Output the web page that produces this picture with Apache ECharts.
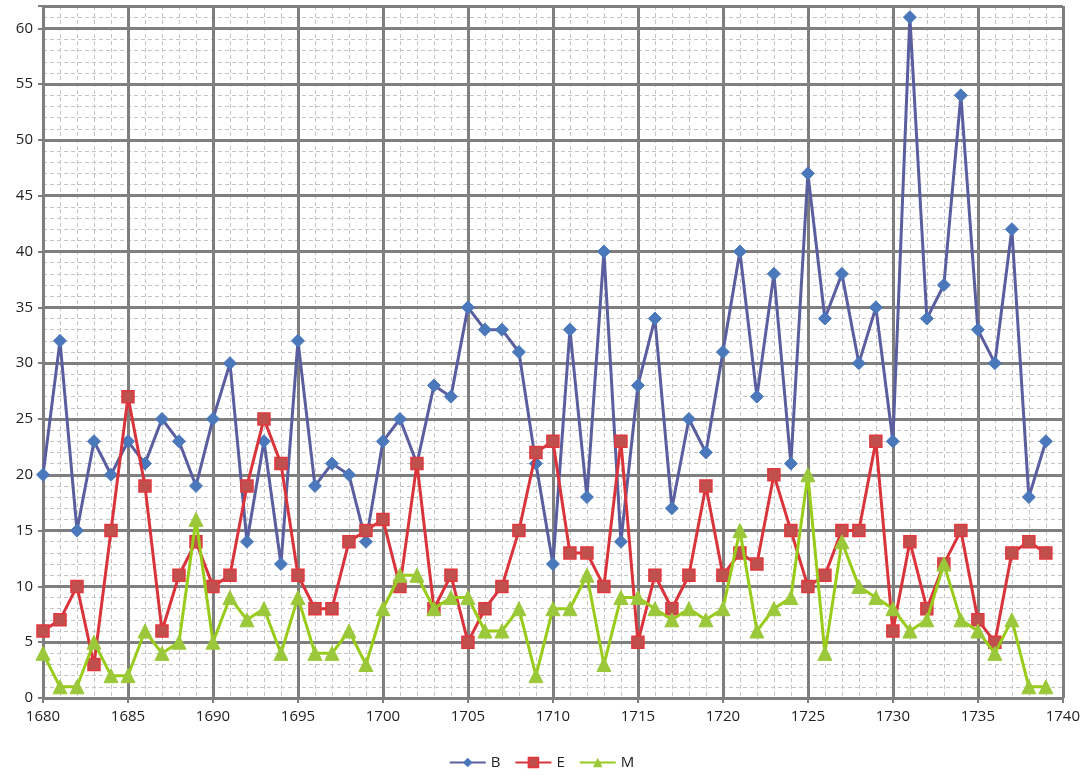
<!DOCTYPE html>
<html>
<head>
<meta charset="utf-8">
<script src="https://cdn.jsdelivr.net/npm/echarts@6/dist/echarts.min.js"></script>
<style>
  html, body { margin: 0; padding: 0; background: #fff; }
  #chart { width: 1083px; height: 775px; }
</style>
</head>
<body>
<div id="chart"></div>
<script>
const years = [];
for (let y = 1680; y <= 1739; y++) years.push(y);

const seriesB = [20, 32, 15, 23, 20, 23, 21, 25, 23, 19,
  25, 30, 14, 23, 12, 32, 19, 21, 20, 14,
  23, 25, 21, 28, 27, 35, 33, 33, 31, 21,
  12, 33, 18, 40, 14, 28, 34, 17, 25, 22,
  31, 40, 27, 38, 21, 47, 34, 38, 30, 35,
  23, 61, 34, 37, 54, 33, 30, 42, 18, 23];

const seriesE = [6, 7, 10, 3, 15, 27, 19, 6, 11, 14,
  10, 11, 19, 25, 21, 11, 8, 8, 14, 15,
  16, 10, 21, 8, 11, 5, 8, 10, 15, 22,
  23, 13, 13, 10, 23, 5, 11, 8, 11, 19,
  11, 13, 12, 20, 15, 10, 11, 15, 15, 23,
  6, 14, 8, 12, 15, 7, 5, 13, 14, 13];

const seriesM = [4, 1, 1, 5, 2, 2, 6, 4, 5, 16,
  5, 9, 7, 8, 4, 9, 4, 4, 6, 3,
  8, 11, 11, 8, 9, 9, 6, 6, 8, 2,
  8, 8, 11, 3, 9, 9, 8, 7, 8, 7,
  8, 15, 6, 8, 9, 20, 4, 14, 10, 9,
  8, 6, 7, 12, 7, 6, 4, 7, 1, 1];

const FONT = "Open Sans";
const MAJOR = { show: true, lineStyle: { color: "#7f7f7f", width: 3 } };
const MINOR = { show: true, lineStyle: { color: "#c4c4c4", width: 1, type: [4, 3] } };

const pair = (vals) => vals.map((v, i) => [years[i], v]);

const chart = echarts.init(document.getElementById("chart"));
chart.setOption({
  animation: false,
  grid: { left: 43, right: 18, top: 6, bottom: 77 },
  legend: {
    bottom: 0,
    left: "center",
    itemWidth: 36,
    itemHeight: 12,
    itemGap: 14,
    textStyle: { fontFamily: FONT, fontSize: 15, color: "#222" },
    data: ["B", "E", "M"],
  },
  xAxis: [
    {
      type: "value",
      min: 1680,
      max: 1740,
      interval: 5,
      z: 2,
      axisLine: { show: false },
      axisTick: { show: true, length: 5, lineStyle: { color: "#7f7f7f", width: 2 } },
      axisLabel: {
        fontFamily: FONT,
        fontSize: 15,
        color: "#222",
        margin: 11,
        formatter: (v) => String(v),
      },
      splitLine: MAJOR,
    },
    {
      type: "value",
      min: 1680,
      max: 1740,
      interval: 1,
      z: 1,
      axisLine: { show: false },
      axisTick: { show: false },
      axisLabel: { show: false },
      splitLine: MINOR,
    },
  ],
  yAxis: [
    {
      type: "value",
      min: 0,
      max: 62,
      interval: 5,
      z: 2,
      axisLine: { show: false },
      axisTick: { show: true, length: 5, lineStyle: { color: "#7f7f7f", width: 2 } },
      axisLabel: {
        fontFamily: FONT,
        fontSize: 15,
        color: "#222",
        margin: 10,
        formatter: (v) => (v % 5 === 0 ? String(v) : ""),
      },
      splitLine: MAJOR,
    },
    {
      type: "value",
      min: 0,
      max: 62,
      interval: 1,
      z: 1,
      axisLine: { show: false },
      axisTick: { show: false },
      axisLabel: { show: false },
      splitLine: MINOR,
    },
  ],
  series: [
    {
      name: "B",
      type: "line",
      data: pair(seriesB),
      symbol: "diamond",
      symbolSize: 13,
      z: 5,
      lineStyle: { color: "#5a5e9f", width: 3 },
      itemStyle: { color: "#4a78bb", borderColor: "#4a78bb" },
    },
    {
      name: "E",
      type: "line",
      data: pair(seriesE),
      symbol: "rect",
      symbolSize: 12,
      z: 6,
      lineStyle: { color: "#d9343b", width: 3 },
      itemStyle: { color: "#c0504d", borderColor: "#e0383e", borderWidth: 1.5 },
    },
    {
      name: "M",
      type: "line",
      data: pair(seriesM),
      symbol: "triangle",
      symbolSize: 14,
      z: 7,
      lineStyle: { color: "#99cc1a", width: 3 },
      itemStyle: { color: "#9bc83a", borderColor: "#9bc83a" },
    },
  ],
});
</script>
</body>
</html>
